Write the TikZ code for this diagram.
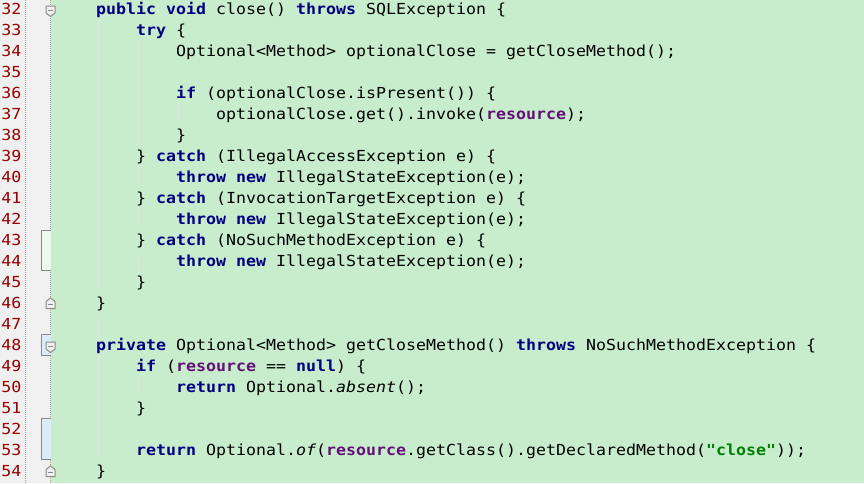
\documentclass[tikz,border=0pt]{standalone}
\usepackage{fontspec}
\newfontfamily\codefont[FakeStretch=1.0929]{DejaVu Sans Mono}
\definecolor{bggreen}{HTML}{C7EDCC}
\definecolor{guttergray}{HTML}{F0F0F0}
\definecolor{numred}{HTML}{990000}
\definecolor{kwblue}{HTML}{000080}
\definecolor{fldpurple}{HTML}{660E7A}
\definecolor{strgreen}{HTML}{008000}
\definecolor{guidegray}{HTML}{E2E2E2}
\definecolor{markgray}{HTML}{8A8A8A}
\definecolor{chgblue}{HTML}{DCEBFB}
\definecolor{chggreen}{HTML}{EEF9EE}
\newcommand\kwd[1]{{\bfseries\color{kwblue}#1}}
\newcommand\fld[1]{{\bfseries\color{fldpurple}#1}}
\newcommand\strl[1]{{\bfseries\color{strgreen}#1}}
\newcommand\ital[1]{{\itshape #1}}
\begin{document}
\begin{tikzpicture}[x=1pt,y=-1pt,
  codeline/.style={anchor=base west, inner sep=0pt, outer sep=0pt, text=black,
    font=\codefont\fontsize{15.2}{20}\selectfont},
  linenum/.style={anchor=base east, inner sep=0pt, outer sep=0pt, text=numred,
    font=\codefont\fontsize{15.2}{20}\selectfont},
  guide/.style={draw=guidegray, line width=1pt},
  sep/.style={draw=markgray!80, line width=1pt, dash pattern=on 1pt off 1pt},
  chg/.style={draw=markgray, line width=1pt},
  fold/.style={draw=markgray, fill=white!94!black, line width=1pt},
]
\useasboundingbox (0,0) rectangle (864,483);
% backgrounds
\fill[guttergray] (0,0) rectangle (50.5,483);
\fill[bggreen] (50.5,0) rectangle (864,483);
\draw[sep] (25,0) -- (25,483);
\draw[sep] (50.5,0) -- (50.5,483);
% change markers
\filldraw[chg, fill=chggreen] (50.5,230.5) -- (41.5,230.5) -- (41.5,270.5) -- (50.5,270.5);
\filldraw[chg, fill=chgblue] (50.5,334.5) -- (41.5,334.5) -- (41.5,355.5) -- (50.5,355.5);
\filldraw[chg, fill=chgblue] (50.5,418.5) -- (41.5,418.5) -- (41.5,459.5) -- (50.5,459.5);
% fold markers (down)
\foreach \y in {6,342}{
  \filldraw[fold] (46,\y) -- (55,\y) -- (55,\y+7) -- (50.5,\y+10.5) -- (46,\y+7) -- cycle;
  \draw[markgray, line width=1pt] (48,\y+4) -- (53,\y+4);
}
% fold markers (up)
\foreach \y in {298,466}{
  \filldraw[fold] (46,\y+10.5) -- (55,\y+10.5) -- (55,\y+3.5) -- (50.5,\y) -- (46,\y+3.5) -- cycle;
  \draw[markgray, line width=1pt] (48,\y+6.5) -- (53,\y+6.5);
}
% indent guides
\draw[guide] (98.5,20) -- (98.5,292);
\draw[guide] (98.5,314) -- (98.5,460);
\draw[guide] (138.5,40) -- (138.5,145);
\draw[guide] (138.5,166) -- (138.5,187);
\draw[guide] (138.5,208) -- (138.5,229);
\draw[guide] (138.5,250) -- (138.5,271);
\draw[guide] (138.5,376) -- (138.5,397);
\draw[guide] (178.5,103) -- (178.5,124);
% line numbers
\foreach \n [evaluate=\n as \yy using {21*(\n-32)+14.5}] in {32,...,54}{
  \node[linenum] (l\n) at (21.5,\yy) {\n};
}
% code lines
\newcommand\cl[3]{\node[codeline] (c#1) at ({56+10*#2},{21*(#1-32)+14.5}) {#3};}
\cl{32}{4}{\kwd{public void} close() \kwd{throws} SQLException \{}
\cl{33}{8}{\kwd{try} \{}
\cl{34}{12}{Optional<Method> optionalClose = getCloseMethod();}
\cl{36}{12}{\kwd{if} (optionalClose.isPresent()) \{}
\cl{37}{16}{optionalClose.get().invoke(\fld{resource});}
\cl{38}{12}{\}}
\cl{39}{8}{\} \kwd{catch} (IllegalAccessException e) \{}
\cl{40}{12}{\kwd{throw new} IllegalStateException(e);}
\cl{41}{8}{\} \kwd{catch} (InvocationTargetException e) \{}
\cl{42}{12}{\kwd{throw new} IllegalStateException(e);}
\cl{43}{8}{\} \kwd{catch} (NoSuchMethodException e) \{}
\cl{44}{12}{\kwd{throw new} IllegalStateException(e);}
\cl{45}{8}{\}}
\cl{46}{4}{\}}
\cl{48}{4}{\kwd{private} Optional<Method> getCloseMethod() \kwd{throws} NoSuchMethodException \{}
\cl{49}{8}{\kwd{if} (\fld{resource} == \kwd{null}) \{}
\cl{50}{12}{\kwd{return} Optional.\ital{absent}();}
\cl{51}{8}{\}}
\cl{53}{8}{\kwd{return} Optional.\ital{of}(\fld{resource}.getClass().getDeclaredMethod(\strl{"close"}));}
\cl{54}{4}{\}}
\end{tikzpicture}
\end{document}
